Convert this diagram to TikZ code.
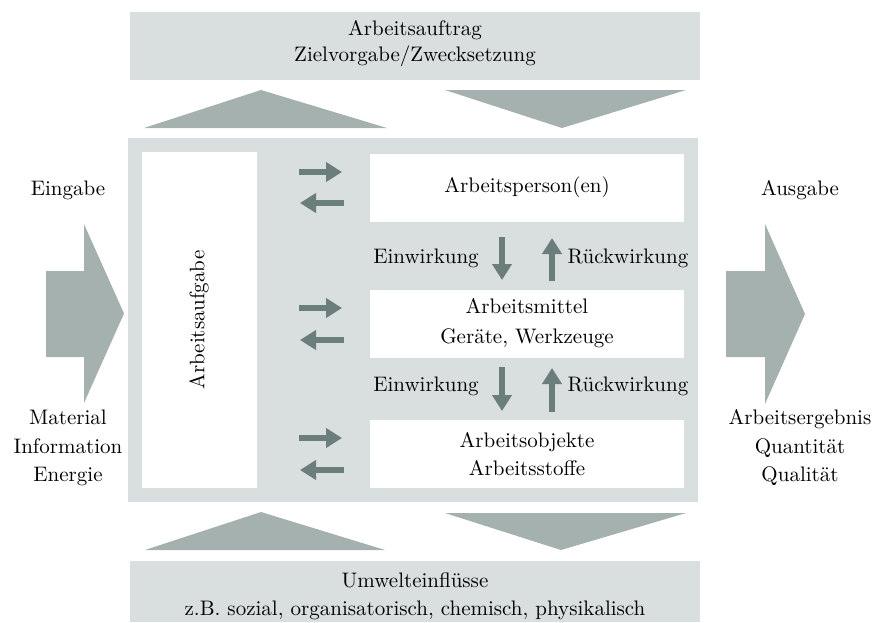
\documentclass[tikz,border=0pt]{standalone}
\usetikzlibrary{arrows.meta}
\definecolor{boxgray}{HTML}{D9DFDE}
\definecolor{trigray}{HTML}{A4B1AE}
\definecolor{arrgray}{HTML}{6B7E7C}
\begin{document}
\begin{tikzpicture}[x=0.5pt,y=-0.5pt,
  font=\fontsize{10.5}{13}\selectfont,
  panel/.style={fill=boxgray},
  whitebox/.style={fill=white},
  bigshape/.style={fill=trigray},
  smallarrow/.style={draw=arrgray, line width=3.3pt, -{Triangle[length=8pt,width=9.5pt]}},
  lbl/.style={inner sep=0pt, align=center}]
\useasboundingbox (0,0) rectangle (873,622);
% panels
\fill[panel] (130,12) rectangle (700,80);
\fill[panel] (128,138) rectangle (698,502);
\fill[panel] (130,561) rectangle (700,622);
\fill[whitebox] (142,152) rectangle (257,488);
\fill[whitebox] (370,154) rectangle (684,222);
\fill[whitebox] (370,290) rectangle (684,358);
\fill[whitebox] (370,420) rectangle (684,488);
% triangles
\fill[bigshape] (144,128) -- (261,90) -- (387,128) -- cycle;
\fill[bigshape] (445,90) -- (686,90) -- (562,128) -- cycle;
\fill[bigshape] (145,550) -- (261,512) -- (385,550) -- cycle;
\fill[bigshape] (445,513) -- (686,513) -- (561,550) -- cycle;
% big arrows
\fill[bigshape] (46,271) -- (84,271) -- (84,224) -- (124,313.5) -- (84,403) -- (84,357) -- (46,357) -- cycle;
\fill[bigshape] (726,271) -- (765,271) -- (765,224) -- (805,314) -- (765,404) -- (765,357) -- (726,357) -- cycle;
% texts
\node[lbl] (auftrag) at (415,44) {Arbeitsauftrag\\Zielvorgabe/Zwecksetzung};
\node[lbl] (eingabe) at (68,190) {Eingabe};
\node[lbl] (ausgabe) at (800,190) {Ausgabe};
\node[lbl, font=\fontsize{10.5}{14.25}\selectfont] (input) at (68,448) {Material\\Information\\Energie};
\node[lbl, font=\fontsize{10.5}{14.25}\selectfont] (output) at (800,448) {Arbeitsergebnis\\Quantität\\Qualität};
\node[lbl, rotate=90] (aufgabe) at (199,320) {Arbeitsaufgabe};
\node[lbl] (person) at (527,187) {Arbeitsperson(en)};
\node[lbl, font=\fontsize{10.5}{15}\selectfont] (mittel) at (527,323) {Arbeitsmittel\\Geräte, Werkzeuge};
\node[lbl, font=\fontsize{10.5}{14}\selectfont] (objekt) at (527,454) {Arbeitsobjekte\\Arbeitsstoffe};
\node[lbl, font=\fontsize{10.5}{14.2}\selectfont] (umwelt) at (415,596) {Umwelteinflüsse\\z.B. sozial, organisatorisch, chemisch, physikalisch};
\node[lbl] (ein1) at (426,258) {Einwirkung};
\node[lbl] (rueck1) at (628,258) {Rückwirkung};
\node[lbl] (ein2) at (426,386) {Einwirkung};
\node[lbl] (rueck2) at (628,386) {Rückwirkung};
% small arrow coordinates
\foreach \n/\ya/\yb in {a/172/203, b/308/340, c/438/470}{
  \coordinate (r\n s) at (299,\ya);
  \coordinate (r\n e) at (342,\ya);
  \coordinate (l\n s) at (344,\yb);
  \coordinate (l\n e) at (300,\yb);
}
\draw[smallarrow] (ras) -- (rae);
\draw[smallarrow] (las) -- (lae);
\draw[smallarrow] (rbs) -- (rbe);
\draw[smallarrow] (lbs) -- (lbe);
\draw[smallarrow] (rcs) -- (rce);
\draw[smallarrow] (lcs) -- (lce);
\coordinate (d1s) at (502,237); \coordinate (d1e) at (502,280);
\coordinate (u1s) at (552,281); \coordinate (u1e) at (552,238);
\coordinate (d2s) at (502,367); \coordinate (d2e) at (502,411);
\coordinate (u2s) at (552,412); \coordinate (u2e) at (552,368);
\draw[smallarrow] (d1s) -- (d1e);
\draw[smallarrow] (u1s) -- (u1e);
\draw[smallarrow] (d2s) -- (d2e);
\draw[smallarrow] (u2s) -- (u2e);
\end{tikzpicture}
\end{document}
